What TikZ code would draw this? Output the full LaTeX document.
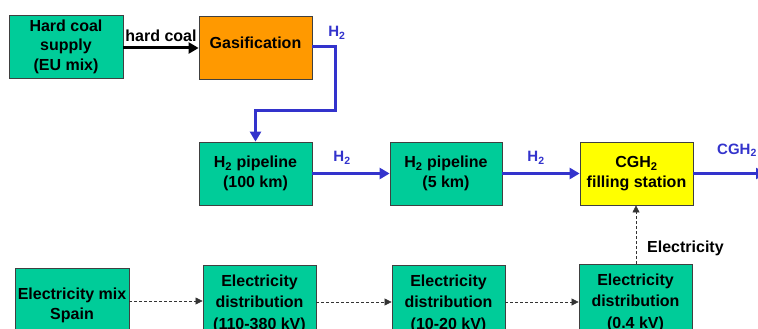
\documentclass[tikz,border=0pt]{standalone}
\usepackage{fontspec}
\setmainfont{Liberation Sans}
\usetikzlibrary{arrows.meta}
\definecolor{boxgreen}{RGB}{0,204,153}
\definecolor{boxorange}{RGB}{255,153,0}
\definecolor{boxyellow}{RGB}{255,255,0}
\definecolor{flowblue}{RGB}{51,51,204}
\tikzset{
  procbox/.style={draw=black!75, line width=0.8pt, minimum width=113pt, minimum height=63pt,
    inner sep=0pt, align=center, font=\fontsize{16}{19.5}\selectfont\bfseries},
  greenbox/.style={procbox, fill=boxgreen},
  elbox/.style={greenbox, font=\fontsize{16}{20.5}\selectfont\bfseries},
  flowlbl/.style={font=\fontsize{15}{18}\selectfont\bfseries, text=flowblue, inner sep=1pt},
  blacklbl/.style={font=\fontsize{16}{19}\selectfont\bfseries, inner sep=1pt},
  blueflow/.style={draw=flowblue, line width=3pt, -{Triangle[length=10pt,width=11pt]}},
  coalflow/.style={draw=black, line width=3pt, -{Triangle[length=10pt,width=11pt]}},
  elflow/.style={draw=black!80, line width=0.6pt, dash pattern=on 3pt off 2pt, -{Triangle[length=7pt,width=7pt]}}
}
\begin{document}
\begin{tikzpicture}[x=1pt,y=-1pt]
\useasboundingbox (0,0) rectangle (758,329);
\clip (0,0) rectangle (758,329);
\node[greenbox, minimum width=114pt] (coal) at (66,46.5) {Hard coal\\supply\\(EU mix)};
\node[procbox, fill=boxorange] (gas) at (255.5,47.5) {\raisebox{9pt}{Gasification}};
\node[greenbox] (p100) at (255.5,173.5) {H\textsubscript{2} pipeline\\(100 km)};
\node[greenbox, minimum width=112pt] (p5) at (446,173.5) {H\textsubscript{2} pipeline\\(5 km)};
\node[procbox, fill=boxyellow] (cgh) at (636.5,173.5) {CGH\textsubscript{2}\\filling station};
\node[elbox, minimum width=114pt] (mix) at (72,299.5) {\begin{tabular}{@{}c@{}}\rule{0pt}{26.5pt}Electricity mix\\Spain\end{tabular}};
\node[elbox] (d110) at (259.5,300.5) {\begin{tabular}{@{}c@{}}\rule{0pt}{21pt}Electricity\\[1pt]distribution\\[1pt](110-380 kV)\end{tabular}};
\node[elbox] (d10) at (448.5,300.5) {\begin{tabular}{@{}c@{}}\rule{0pt}{21pt}Electricity\\[1pt]distribution\\[1pt](10-20 kV)\end{tabular}};
\node[elbox] (d04) at (635.5,299.5) {\begin{tabular}{@{}c@{}}\rule{0pt}{21pt}Electricity\\[1pt]distribution\\[1pt](0.4 kV)\end{tabular}};

\draw[coalflow] (coal.east |- 0,48) -- (gas.west |- 0,48) node[blacklbl, midway, above=4pt] {hard coal};

\coordinate (b1) at (335,47);
\coordinate (b2) at (335,110);
\coordinate (b3) at (255.5,110);
\draw[blueflow, line join=miter] (gas.east |- b1) -- (b1) -- (b2) -- (b3) -- (p100.north);
\node[flowlbl] (h2a) at (337,33) {H\textsubscript{2}};

\draw[blueflow] (p100.east) -- (p5.west) node[flowlbl, midway, above=7pt, xshift=-9pt] (h2b) {H\textsubscript{2}};
\draw[blueflow] (p5.east) -- (cgh.west) node[flowlbl, midway, above=7pt, xshift=-5pt] (h2c) {H\textsubscript{2}};
\coordinate (out) at (766,173.5);
\draw[blueflow] (cgh.east) -- (out);
\node[flowlbl, anchor=west] (cghl) at (716,150) {CGH\textsubscript{2}};

\draw[elflow] (mix.east |- 0,301) -- (d110.west |- 0,301);
\draw[elflow] (d110.east |- 0,302) -- (d10.west |- 0,302);
\draw[elflow] (d10.east |- 0,302) -- (d04.west |- 0,302);
\draw[elflow] (d04.north -| 636,0) -- (cgh.south -| 636,0);
\node[blacklbl, anchor=west] (ell) at (646,248) {Electricity};
\end{tikzpicture}
\end{document}
